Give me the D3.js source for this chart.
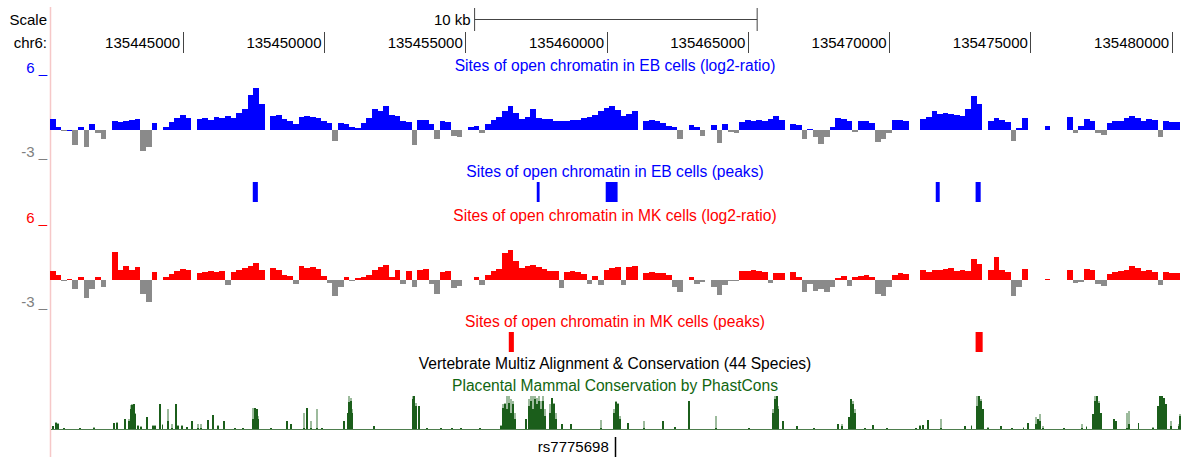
<!DOCTYPE html>
<html><head><meta charset="utf-8">
<script src="https://cdn.jsdelivr.net/npm/d3@7"></script>
<style>
body{margin:0;background:#fff;}
svg{display:block;font-family:"Liberation Sans",Arial,Helvetica,sans-serif;}
</style>
</head><body>
<svg id="chart" width="1187" height="457"></svg>
<script>
// ---------------- DATA ----------------
const chromName = "chr6:";
const viewStart = 135440300;
const binSize = 200;
const tickPositions = [135445000, 135450000, 135455000, 135460000, 135465000, 135470000, 135475000, 135480000];
const scaleBarRange = [135455330, 135465330];
const scaleBarLabel = "10 kb";

const trackTitles = [
  "Sites of open chromatin in EB cells (log2-ratio)",
  "Sites of open chromatin in EB cells (peaks)",
  "Sites of open chromatin in MK cells (log2-ratio)",
  "Sites of open chromatin in MK cells (peaks)",
  "Vertebrate Multiz Alignment & Conservation (44 Species)",
  "Placental Mammal Conservation by PhastCons"
];
const wigRange = [-3, 6];

// EB log2-ratio, 200 bp bins starting at viewStart (null = no data)
const ebValues = [
 1.2,0.3,-0.1,0.05,-1.6,0.3,-1.8,0.6,-0.3,-1.0,
 null,1.0,0.9,1.0,1.1,1.2,-2.2,-1.8,0.8,null,
 0.3,0.9,1.3,1.6,1.3,null,1.2,1.3,1.1,1.4,
 1.3,1.5,1.3,1.8,2.3,3.8,4.5,2.8,null,1.5,
 1.6,1.2,1.0,0.6,1.4,1.5,1.4,1.3,1.0,0.8,
 -1.2,0.8,0.6,0.3,0.2,0.8,1.3,2.2,2.0,2.6,
 1.6,1.5,1.0,0.9,-1.6,1.1,1.1,0.6,-1.0,1.0,
 0.9,-0.6,-0.7,null,0.3,0.4,-0.3,0.6,1.1,1.4,
 2.0,2.6,1.8,1.2,1.4,2.2,1.3,1.2,1.2,1.0,
 1.0,1.0,1.1,1.1,1.3,1.4,1.6,2.0,2.4,2.6,
 2.1,1.5,1.7,2.0,null,1.0,1.1,1.0,0.8,0.4,
 0.3,-1.0,null,0.5,0.3,-0.6,null,0.5,-1.4,0.6,
 -0.2,-0.3,0.9,1.1,1.0,1.1,1.0,1.2,1.5,1.1,
 null,0.6,0.5,-1.0,0.1,-0.8,-1.5,-0.8,0.3,1.3,
 1.2,1.0,-0.2,1.0,1.0,0.8,-1.3,-1.0,-0.3,1.1,
 1.1,1.0,null,null,1.2,1.4,2.0,1.7,1.8,1.7,
 1.6,1.5,2.3,3.6,2.8,null,1.0,1.3,1.1,0.9,
 -1.2,0.2,1.3,null,null,null,0.4,null,null,null,
 1.4,-0.3,0.4,1.2,1.0,-0.3,-0.5,0.7,1.0,1.0,
 1.3,1.5,1.3,1.0,1.2,1.1,-0.7,1.0,0.9,0.9
];

// MK log2-ratio, same bins
const mkValues = [
 0.9,0.5,-0.1,0.05,-1.0,0.3,-2.0,-1.0,0.3,-0.8,
 null,3.0,1.0,1.5,1.0,1.3,-1.6,-2.4,0.8,null,
 0.3,0.6,0.9,1.1,1.0,null,0.7,0.8,0.9,0.8,
 0.9,-0.6,0.8,1.0,1.2,1.4,1.8,1.0,null,1.2,
 1.0,0.5,0.4,-0.5,1.5,1.2,1.3,1.1,0.4,-0.4,
 -1.8,-0.8,0.3,-0.2,0.2,0.3,0.5,1.0,1.3,1.6,
 0.3,1.0,-0.5,0.9,-0.8,1.0,1.1,-0.5,-1.5,0.8,
 0.9,-0.9,-0.7,null,null,0.3,-0.6,0.5,0.9,1.1,
 2.8,3.2,2.0,1.2,1.4,1.6,1.3,1.1,0.9,0.9,
 -0.9,0.8,0.9,0.8,0.6,-0.5,0.4,-0.6,1.0,1.2,
 1.3,-0.6,1.3,1.4,null,0.7,0.8,0.7,0.7,0.5,
 -0.8,-1.3,null,0.3,-0.5,-0.3,null,-0.8,-1.7,-0.6,
 -0.2,-0.2,0.9,0.9,1.0,0.9,0.8,-0.4,0.7,0.7,
 null,0.8,0.3,-1.3,-0.5,-1.2,-1.0,-1.3,-0.8,0.2,
 0.4,-0.7,0.3,0.4,0.5,0.3,-1.6,-1.8,-0.8,0.5,
 0.7,0.6,null,null,1.0,0.8,1.0,1.0,1.1,1.2,
 0.9,1.0,0.9,2.2,1.7,null,1.0,2.4,1.0,0.8,
 -1.8,-0.8,1.1,null,null,null,0.05,null,null,null,
 1.0,-0.4,-0.3,1.1,1.0,-0.5,-0.7,0.6,0.8,0.9,
 1.0,1.4,1.2,0.9,1.0,0.8,-0.6,0.8,0.7,0.7
];

// peak calls [start, end]
const ebPeaks = [[135447480,135447660],[135457530,135457630],[135459970,135460390],[135471650,135471790],[135473060,135473240]];
const mkPeaks = [[135456540,135456720],[135473060,135473310]];

// PhastCons: position, value (dark), max (light shade)
const consPos = [
 135440360,135440470,135440540,135440750,135441320,135441815,135442520,135442630,135442910,135443050,
 135443120,135443180,135443230,135443280,135443400,135443500,135443690,135443900,135444000,135444150,
 135444250,135444430,135444570,135444720,135444800,135444930,135445100,135445280,135445500,135445600,
 135445850,135446030,135446200,135446420,135446800,135447100,135447470,135447520,135447580,135447640,
 135448100,135448640,135448790,135449250,135449350,135449490,135449710,135449900,135450660,135450800,
 135450860,135450910,135450960,135451720,135453100,135453160,135453210,135453320,135453600,135454100,
 135454500,135454800,135455500,135456220,135456290,135456360,135456430,135456500,135456570,135456640,
 135456710,135457100,135457210,135457280,135457350,135457420,135457490,135457560,135457630,135457700,
 135457770,135457950,135458020,135458090,135458160,135458400,135458700,135459760,135460220,135460290,
 135460360,135460430,135460710,135461280,135461970,135462400,135462870,135463830,135465000,135465840,
 135465910,135465980,135466050,135466200,135466700,135467300,135468140,135468300,135468530,135468600,
 135468670,135468740,135469100,135469400,135469900,135470900,135471050,135471150,135471330,135471790,
 135472650,135472880,135473060,135473130,135473200,135473270,135473450,135473910,135474300,135474720,
 135474870,135475150,135475220,135475290,135475400,135476150,135476800,135476950,135477170,135477240,
 135477310,135477380,135477450,135477940,135477980,135478370,135478440,135478790,135479290,135479470,
 135479540,135479610,135479680,135479750,135479930,135480210,135480260
];
const consVal = [
 0.1,0.2,0.15,0.03,0.03,0.04,0.2,0.2,0.3,0.25,
 0.6,0.72,0.75,0.45,0.1,0.08,0.36,0.1,0.1,0.76,
 0.13,0.26,0.05,0.75,0.1,0.1,0.06,0.26,0.05,0.05,
 0.28,0.43,0.1,0.26,0.03,0.03,0.3,0.64,0.6,0.3,
 0.03,0.26,0.17,0.05,0.65,0.05,0.05,0.03,0.26,0.48,
 0.83,0.85,0.5,0.11,0.9,1.0,0.7,0.7,0.05,0.05,
 0.05,0.05,0.03,0.1,0.65,0.75,0.6,0.8,0.5,0.75,
 0.3,0.3,0.7,0.85,0.6,0.9,0.75,0.85,0.6,0.85,
 0.4,0.5,0.95,0.75,0.3,0.15,0.15,0.05,0.5,0.83,
 0.75,0.3,0.18,0.05,0.26,0.06,0.85,0.05,0.04,0.5,
 0.9,1.0,0.6,0.24,0.1,0.05,0.15,0.1,0.38,0.9,
 0.75,0.5,0.05,0.12,0.05,0.03,0.1,0.13,0.28,0.05,
 0.1,0.1,0.7,1.0,0.85,0.6,0.05,0.11,0.05,0.05,
 0.2,0.15,0.3,0.25,0.05,0.03,0.05,0.08,0.45,0.85,
 1.0,0.8,0.5,0.3,0.25,0.05,0.15,0.2,0.05,0.7,
 1.0,1.0,0.95,0.75,0.1,0.1,0.4
];
const consMax = [
 0.1,0.22,0.2,0.03,0.03,0.08,0.2,0.22,0.3,0.3,
 0.72,0.76,0.76,0.5,0.12,0.1,0.36,0.12,0.12,0.76,
 0.15,0.6,0.17,0.75,0.12,0.12,0.06,0.26,0.17,0.17,
 0.28,0.43,0.12,0.26,0.03,0.05,0.65,0.65,0.62,0.4,
 0.03,0.26,0.17,0.5,0.65,0.26,0.6,0.03,0.26,0.48,
 1.0,0.95,0.6,0.11,1.0,1.0,0.8,0.7,0.05,0.05,
 0.05,0.05,0.03,0.12,0.75,0.8,1.0,1.0,0.9,0.85,
 0.5,0.3,0.9,1.0,1.0,1.0,0.95,1.0,0.85,1.0,
 0.6,0.75,0.95,0.8,0.5,0.15,0.15,0.28,0.6,0.85,
 0.8,0.4,0.18,0.24,0.26,0.06,0.85,0.4,0.04,0.6,
 1.0,1.0,0.7,0.24,0.1,0.05,0.15,0.15,0.38,0.92,
 0.85,0.6,0.05,0.12,0.05,0.03,0.13,0.13,0.28,0.3,
 0.1,0.13,1.0,1.0,0.9,0.6,0.08,0.11,0.05,0.08,
 0.2,0.38,0.3,0.45,0.1,0.03,0.15,0.1,0.45,1.0,
 1.0,0.85,0.5,0.3,0.25,0.5,0.55,0.2,0.06,0.7,
 1.0,1.0,0.95,0.75,0.25,0.15,0.45
];
const consBarWidth = 70;

const snpName = "rs7775698";
const snpPos = 135460290;

// ---------------- DRAWING ----------------
const svg = d3.select("#chart");
const FONT = 15;
const TITLE_FONT = 15.6;
const x = d3.scaleLinear().domain([135445000, 135480000]).range([182.7, 1171.7]);
const dataLeft = 50, dataRight = 1181;

// left pink guide line
svg.append("line").attr("x1", 50.5).attr("x2", 50.5).attr("y1", 7).attr("y2", 457)
  .attr("stroke", "#f6c8c8").attr("stroke-width", 1.5);

function label(txt, xx, yy, anchor, color, size) {
  return svg.append("text").attr("x", xx).attr("y", yy).attr("text-anchor", anchor)
    .attr("font-size", size || FONT).attr("fill", color || "#000").text(txt);
}

// Scale row
label("Scale", 47, 25, "end");
label(scaleBarLabel, x(scaleBarRange[0]) - 4, 25, "end");
const sb = svg.append("g").attr("stroke", "#444").attr("stroke-width", 1);
sb.append("line").attr("x1", x(scaleBarRange[0])).attr("x2", x(scaleBarRange[1])).attr("y1", 19.5).attr("y2", 19.5);
sb.append("line").attr("x1", x(scaleBarRange[0])).attr("x2", x(scaleBarRange[0])).attr("y1", 8).attr("y2", 31);
sb.append("line").attr("x1", x(scaleBarRange[1])).attr("x2", x(scaleBarRange[1])).attr("y1", 8).attr("y2", 31);

// chromosome position axis
label(chromName, 47, 48, "end");
const axis = d3.axisBottom(x).tickValues(tickPositions).tickSize(21).tickFormat(d3.format("d"));
const ag = svg.append("g").attr("transform", "translate(0,32)").call(axis);
ag.select(".domain").remove();
ag.selectAll(".tick line").attr("stroke", "#444").attr("shape-rendering", "crispEdges");
ag.selectAll(".tick text").attr("y", 16).attr("dy", 0).attr("x", -3)
  .attr("text-anchor", "end").attr("font-size", FONT)
  .attr("font-family", "Liberation Sans, Arial, sans-serif").attr("fill", "#000");

const center = 615;

// wiggle track
function wiggle(values, yTop, yBot, posColor, labelColor, title, titleY) {
  const y = d3.scaleLinear().domain(wigRange).range([yBot, yTop]);
  label("6 _", 47, y(wigRange[1]) - 1, "end", labelColor);
  label("-3 _", 47, y(wigRange[0]) - 1, "end", "#808080");
  label(title, center, titleY, "middle", labelColor, TITLE_FONT);
  const data = values.map((v, i) => ({v, s: viewStart + i * binSize})).filter(d => d.v !== null);
  svg.append("g").attr("shape-rendering", "crispEdges").selectAll("rect").data(data).join("rect")
    .attr("x", d => x(d.s))
    .attr("width", d => x(d.s + binSize) - x(d.s))
    .attr("y", d => Math.min(y(d.v), y(0)))
    .attr("height", d => Math.max(1, Math.abs(y(d.v) - y(0))))
    .attr("fill", d => d.v >= 0 ? posColor : "#8a8a8a");
}

function peaks(list, yTop, h, color, title, titleY) {
  label(title, center, titleY, "middle", color, TITLE_FONT);
  svg.append("g").selectAll("rect").data(list).join("rect")
    .attr("x", d => x(d[0])).attr("width", d => Math.max(2, x(d[1]) - x(d[0])))
    .attr("y", yTop).attr("height", h).attr("fill", color);
}

wiggle(ebValues, 74, 158, "#0000ff", "#0000ff", trackTitles[0], 71);
peaks(ebPeaks, 182, 20, "#0000ff", trackTitles[1], 177);
wiggle(mkValues, 223.5, 307.5, "#ff0000", "#ff0000", trackTitles[2], 221);
peaks(mkPeaks, 332, 20, "#ff0000", trackTitles[3], 327);

// conservation
label(trackTitles[4], center, 369, "middle", "#000", TITLE_FONT);
label(trackTitles[5], center, 391, "middle", "#116611", TITLE_FONT);
const yc = d3.scaleLinear().domain([0, 1]).range([429.5, 396]);
const cons = consPos.map((p, i) => ({p, v: consVal[i], m: consMax[i]}));
const cg = svg.append("g").attr("shape-rendering", "crispEdges");
cg.selectAll("rect.mx").data(cons).join("rect").attr("class", "mx")
  .attr("x", d => x(d.p)).attr("width", d => Math.max(1.5, x(d.p + consBarWidth) - x(d.p)))
  .attr("y", d => yc(d.m)).attr("height", d => yc(0) - yc(d.m)).attr("fill", "#9dbb9d");
cg.selectAll("rect.vl").data(cons).join("rect").attr("class", "vl")
  .attr("x", d => x(d.p)).attr("width", d => Math.max(1.5, x(d.p + consBarWidth) - x(d.p)))
  .attr("y", d => yc(d.v)).attr("height", d => yc(0) - yc(d.v)).attr("fill", "#1b5e1b");
svg.append("line").attr("x1", dataLeft + 1).attr("x2", dataRight).attr("y1", 429.5).attr("y2", 429.5)
  .attr("stroke", "#4e7e4e").attr("stroke-width", 1);

// SNP
label(snpName, x(snpPos) - 6, 452, "end", "#000");
svg.append("rect").attr("x", x(snpPos)).attr("y", 437).attr("width", 1.5).attr("height", 20).attr("fill", "#000");
</script>
</body></html>
